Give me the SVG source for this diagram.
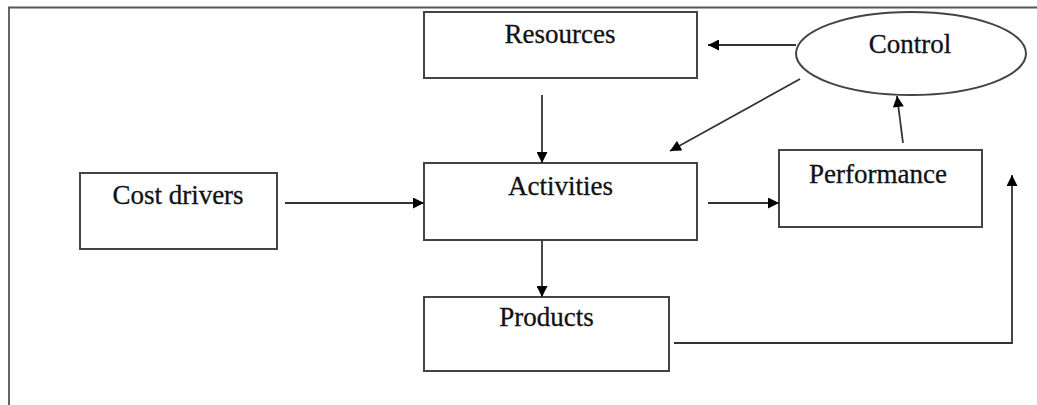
<svg xmlns="http://www.w3.org/2000/svg" width="1037" height="405" viewBox="0 0 1037 405">
<style>
.box{fill:#fff;stroke:#444;stroke-width:2}
.lbl{font-family:"Liberation Serif",serif;font-size:27px;fill:#111;stroke:#111;stroke-width:0.3;text-anchor:middle}
.con{stroke:#333;stroke-width:1.8;fill:none}
</style>
<defs>
<marker id="ah" viewBox="0 0 10 10" refX="10" refY="5" markerWidth="13" markerHeight="11" markerUnits="userSpaceOnUse" orient="auto">
<path d="M0,0 L10,5 L0,10 z" fill="#000"/>
</marker>
</defs>
<rect width="1037" height="405" fill="#fff"/>
<path d="M9,405 V7.5 H1037" stroke="#555" stroke-width="1.8" fill="none"/>
<g id="resources"><rect class="box" x="424" y="12" width="273" height="66"/><text class="lbl" x="560" y="43">Resources</text></g>
<g id="control"><ellipse class="box" cx="911" cy="53.5" rx="115" ry="41.5"/><text class="lbl" x="910" y="53">Control</text></g>
<g id="activities"><rect class="box" x="424" y="163" width="273" height="77"/><text class="lbl" x="560.5" y="195">Activities</text></g>
<g id="performance"><rect class="box" x="779" y="150" width="203" height="77"/><text class="lbl" x="878" y="183">Performance</text></g>
<g id="cost-drivers"><rect class="box" x="80" y="173" width="197" height="76"/><text class="lbl" x="178" y="204">Cost drivers</text></g>
<g id="products"><rect class="box" x="424" y="297" width="245" height="74"/><text class="lbl" x="546.5" y="326">Products</text></g>
<g id="connectors">
<line class="con" x1="796" y1="45" x2="708" y2="45" marker-end="url(#ah)"/>
<line class="con" x1="800" y1="79" x2="670" y2="151" marker-end="url(#ah)"/>
<line class="con" x1="542" y1="95" x2="542" y2="163" marker-end="url(#ah)"/>
<line class="con" x1="903" y1="143" x2="897" y2="96" marker-end="url(#ah)"/>
<line class="con" x1="708" y1="203" x2="779" y2="203" marker-end="url(#ah)"/>
<line class="con" x1="285" y1="203" x2="424" y2="203" marker-end="url(#ah)"/>
<line class="con" x1="542" y1="240" x2="542" y2="297" marker-end="url(#ah)"/>
<path class="con" d="M674,343 H1012 V175" marker-end="url(#ah)"/>
</g>
</svg>
